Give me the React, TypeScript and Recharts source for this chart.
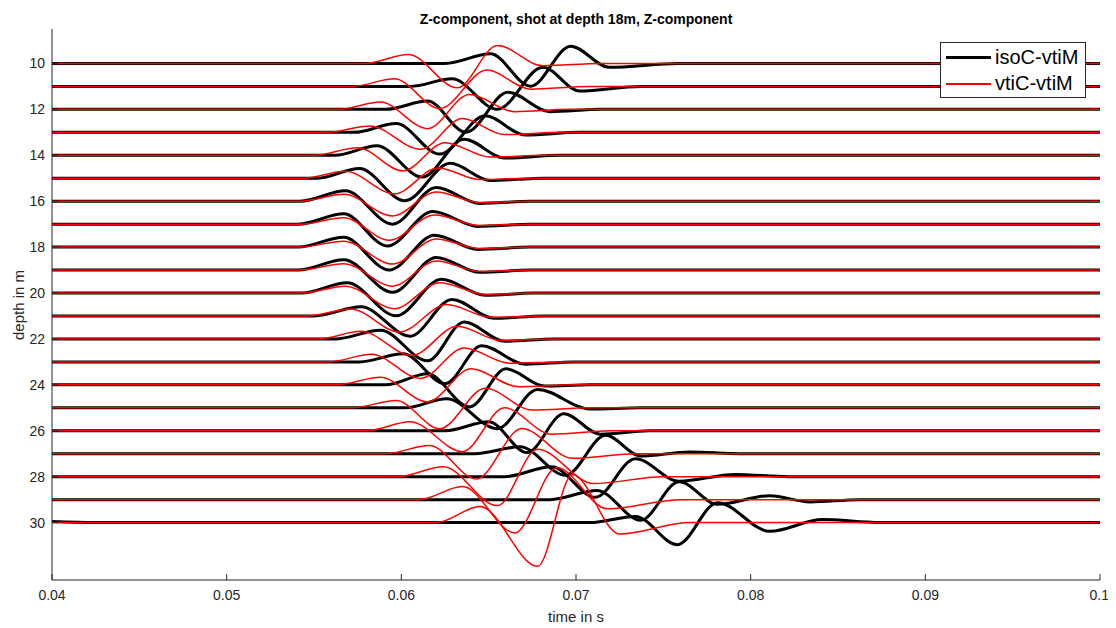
import React from 'react';
import { LineChart, Line, XAxis, YAxis } from 'recharts';

// receiver depths (m)
const depths = [10, 11, 12, 13, 14, 15, 16, 17, 18, 19, 20, 21, 22, 23, 24, 25, 26, 27, 28, 29, 30];

// picked trace extrema: [time (s), displacement in depth units, upward positive]
const blackPicks: number[][][] = [
  [[0.0625, 0], [0.0651, 0.42], [0.0674, -0.99], [0.0697, 0.75], [0.0719, -0.17], [0.0759, 0]],
  [[0.0605, 0], [0.0629, 0.33], [0.0655, -1.0], [0.0681, 0.83], [0.0702, -0.2], [0.0737, 0]],
  [[0.0591, 0], [0.0615, 0.36], [0.0637, -1.0], [0.0661, 0.74], [0.0685, -0.1], [0.0714, 0]],
  [[0.0573, 0], [0.0597, 0.38], [0.0622, -0.95], [0.0648, 0.72], [0.0671, -0.12], [0.0702, 0]],
  [[0.0562, 0], [0.0586, 0.41], [0.0612, -0.95], [0.0636, 0.7], [0.0659, -0.12], [0.0691, 0]],
  [[0.0552, 0], [0.0576, 0.42], [0.0602, -0.98], [0.0628, 0.65], [0.0651, -0.1], [0.0682, 0]],
  [[0.0542, 0], [0.0568, 0.45], [0.0595, -1.0], [0.062, 0.6], [0.0645, -0.1], [0.0674, 0]],
  [[0.0541, 0], [0.0567, 0.45], [0.0592, -0.95], [0.0618, 0.55], [0.0644, -0.1], [0.0674, 0]],
  [[0.0541, 0], [0.0567, 0.43], [0.0593, -1.0], [0.0619, 0.52], [0.0644, -0.1], [0.0674, 0]],
  [[0.0541, 0], [0.0567, 0.45], [0.0595, -0.97], [0.062, 0.55], [0.0645, -0.1], [0.0674, 0]],
  [[0.0543, 0], [0.0569, 0.45], [0.0597, -0.99], [0.0623, 0.6], [0.0648, -0.1], [0.0676, 0]],
  [[0.055, 0], [0.0577, 0.4], [0.0605, -0.88], [0.0629, 0.72], [0.0653, -0.1], [0.0682, 0]],
  [[0.0562, 0], [0.0588, 0.38], [0.0615, -0.95], [0.0636, 0.74], [0.0659, -0.1], [0.0688, 0]],
  [[0.0576, 0], [0.0601, 0.35], [0.0625, -0.95], [0.0646, 0.7], [0.0671, -0.1], [0.0699, 0]],
  [[0.0591, 0], [0.0615, 0.48], [0.0639, -0.96], [0.066, 0.7], [0.0682, -0.05], [0.0708, 0]],
  [[0.0602, 0], [0.0626, 0.39], [0.0655, -0.91], [0.0678, 0.8], [0.0708, -0.05], [0.0737, 0]],
  [[0.0625, 0], [0.065, 0.39], [0.0672, -0.95], [0.0693, 0.74], [0.0714, -0.15], [0.0742, 0]],
  [[0.0642, 0], [0.0668, 0.3], [0.0694, -0.94], [0.0717, 0.8], [0.0737, -0.1], [0.0765, 0.08], [0.0794, 0]],
  [[0.0659, 0], [0.0686, 0.43], [0.0711, -0.9], [0.0734, 0.78], [0.0759, -0.2], [0.0791, 0.1], [0.0822, 0]],
  [[0.0685, 0], [0.0712, 0.4], [0.0737, -0.9], [0.0759, 0.78], [0.0781, -0.2], [0.0811, 0.17], [0.0834, -0.1], [0.0862, 0]],
  [[0.04, 0.05], [0.0425, 0], [0.0708, 0], [0.0734, 0.27], [0.0758, -0.96], [0.0781, 0.87], [0.0811, -0.38], [0.0841, 0.13], [0.0874, 0]],
];

const redPicks: number[][][] = [
  [[0.0579, 0], [0.0604, 0.39], [0.0632, -1.06], [0.0655, 0.78], [0.0681, -0.1], [0.0714, 0]],
  [[0.0572, 0], [0.0596, 0.33], [0.0622, -0.96], [0.0649, 0.71], [0.0674, -0.12], [0.0708, 0]],
  [[0.0564, 0], [0.0588, 0.32], [0.0615, -0.84], [0.0639, 0.65], [0.0665, -0.1], [0.0696, 0]],
  [[0.0558, 0], [0.0582, 0.28], [0.0611, -0.74], [0.0635, 0.6], [0.0659, -0.1], [0.0691, 0]],
  [[0.055, 0], [0.0575, 0.33], [0.0601, -0.68], [0.0625, 0.55], [0.0651, -0.08], [0.0682, 0]],
  [[0.0544, 0], [0.0568, 0.3], [0.0596, -0.68], [0.0621, 0.45], [0.0645, -0.06], [0.0674, 0]],
  [[0.0542, 0], [0.0567, 0.3], [0.0595, -0.64], [0.062, 0.4], [0.0645, -0.06], [0.0674, 0]],
  [[0.0542, 0], [0.0567, 0.28], [0.0593, -0.7], [0.0619, 0.4], [0.0645, -0.06], [0.0674, 0]],
  [[0.0542, 0], [0.0567, 0.26], [0.0595, -0.74], [0.062, 0.35], [0.0645, -0.06], [0.0674, 0]],
  [[0.0542, 0], [0.0567, 0.28], [0.0595, -0.7], [0.062, 0.4], [0.0645, -0.06], [0.0674, 0]],
  [[0.0543, 0], [0.0568, 0.3], [0.0596, -0.68], [0.0622, 0.45], [0.0648, -0.06], [0.0676, 0]],
  [[0.0546, 0], [0.0571, 0.3], [0.0599, -0.7], [0.0626, 0.5], [0.0651, -0.06], [0.0682, 0]],
  [[0.0552, 0], [0.0577, 0.33], [0.0606, -0.72], [0.0632, 0.55], [0.0657, -0.06], [0.0688, 0]],
  [[0.0558, 0], [0.0583, 0.33], [0.0611, -0.72], [0.0636, 0.6], [0.0662, -0.06], [0.0694, 0]],
  [[0.0563, 0], [0.0588, 0.33], [0.0615, -0.74], [0.064, 0.7], [0.0667, -0.08], [0.07, 0]],
  [[0.0572, 0], [0.0597, 0.32], [0.0622, -0.91], [0.0648, 0.85], [0.0675, -0.1], [0.0708, 0]],
  [[0.058, 0], [0.0605, 0.39], [0.0635, -0.91], [0.0659, 1.0], [0.0686, -0.15], [0.072, 0]],
  [[0.0591, 0], [0.0616, 0.36], [0.0643, -1.1], [0.0669, 1.1], [0.0698, -0.2], [0.0735, 0]],
  [[0.0598, 0], [0.0624, 0.43], [0.0655, -1.26], [0.0678, 1.2], [0.071, -0.3], [0.075, 0]],
  [[0.061, 0], [0.0635, 0.57], [0.0665, -1.45], [0.0689, 1.4], [0.0718, -0.4], [0.076, 0]],
  [[0.062, 0], [0.0645, 0.7], [0.0678, -1.9], [0.0698, 2.1], [0.0725, -0.5], [0.0765, 0]],
];

const xTicks = [0.04, 0.05, 0.06, 0.07, 0.08, 0.09, 0.1];
const yTicks = [10, 12, 14, 16, 18, 20, 22, 24, 26, 28, 30];

const T_START = 0.04;
const T_END = 0.1;

function buildTrace(depth: number, picks: number[][]) {
  const pts: number[][] = [];
  if (picks[0][0] > T_START) pts.push([T_START, 0]);
  picks.forEach((p) => pts.push(p));
  if (picks[picks.length - 1][0] < T_END) pts.push([T_END, 0]);
  return pts.map(([t, a]) => ({ t, y: depth - a }));
}

const blackTraces = depths.map((d, i) => buildTrace(d, blackPicks[i]));
const redTraces = depths.map((d, i) => buildTrace(d, redPicks[i]));

const AX = '#262626';
const FONT = 'Liberation Sans, Arial, Helvetica, sans-serif';

export default function App() {
  return (
    <div style={{ position: 'relative', width: 1100, height: 620, fontFamily: FONT }}>
      <LineChart width={1100} height={610} margin={{ top: 21, right: 8, bottom: 0, left: 0 }}>
        <XAxis
          dataKey="t"
          type="number"
          domain={[T_START, T_END]}
          ticks={xTicks}
          allowDataOverflow
          height={38}
          tickSize={-6}
          tickMargin={16}
          stroke={AX}
          tick={{ fill: AX, fontSize: 14, fontFamily: FONT }}
          tickFormatter={(v: number) => String(Number(v.toFixed(2)))}
        />
        <XAxis
          xAxisId="top"
          orientation="top"
          dataKey="t"
          type="number"
          domain={[T_START, T_END]}
          ticks={xTicks}
          allowDataOverflow
          height={0}
          tickSize={-6}
          stroke={AX}
          tickFormatter={() => ''}
        />
        <YAxis
          dataKey="y"
          type="number"
          domain={[8.5, 32.5]}
          reversed
          ticks={yTicks}
          allowDataOverflow
          width={44}
          tickSize={-6}
          tickMargin={13}
          stroke={AX}
          tick={{ fill: AX, fontSize: 14, fontFamily: FONT }}
        />
        <YAxis
          yAxisId="right"
          orientation="right"
          dataKey="y"
          type="number"
          domain={[8.5, 32.5]}
          reversed
          ticks={yTicks}
          allowDataOverflow
          width={0}
          tickSize={-6}
          stroke={AX}
          tickFormatter={() => ''}
        />
        {blackTraces.map((data, i) => (
          <Line
            key={'b' + depths[i]}
            data={data}
            dataKey="y"
            type="monotone"
            stroke="#000000"
            strokeWidth={3}
            dot={false}
            activeDot={false}
            isAnimationActive={false}
          />
        ))}
        {redTraces.map((data, i) => (
          <Line
            key={'r' + depths[i]}
            data={data}
            dataKey="y"
            type="monotone"
            stroke="#ff0000"
            strokeWidth={1.5}
            dot={false}
            activeDot={false}
            isAnimationActive={false}
          />
        ))}
      </LineChart>
      <div
        style={{
          position: 'absolute', left: 44, width: 1048, top: 3, textAlign: 'center',
          fontWeight: 'bold', fontSize: 14, color: '#000',
        }}
      >
        Z-component, shot at depth 18m, Z-component
      </div>
      <div style={{ position: 'absolute', left: 44, width: 1048, top: 600, textAlign: 'center', fontSize: 15, color: AX }}>
        time in s
      </div>
      <div
        style={{
          position: 'absolute', left: 10, top: 297, fontSize: 15, color: AX,
          transform: 'translate(-50%, -50%) rotate(-90deg)', whiteSpace: 'nowrap',
        }}
      >
        depth in m
      </div>
      <div
        style={{
          position: 'absolute', left: 932, top: 34, width: 146, height: 56,
          border: '1px solid #262626', background: '#fff', boxSizing: 'border-box',
        }}
      >
        <div style={{ position: 'absolute', left: 5, top: 13, width: 45, height: 3, background: '#000' }} />
        <div style={{ position: 'absolute', left: 54, top: 2, fontSize: 20, lineHeight: '24px', color: '#000' }}>isoC-vtiM</div>
        <div style={{ position: 'absolute', left: 5, top: 40, width: 45, height: 1.5, background: '#ff0000' }} />
        <div style={{ position: 'absolute', left: 54, top: 28, fontSize: 20, lineHeight: '24px', color: '#000' }}>vtiC-vtiM</div>
      </div>
    </div>
  );
}
